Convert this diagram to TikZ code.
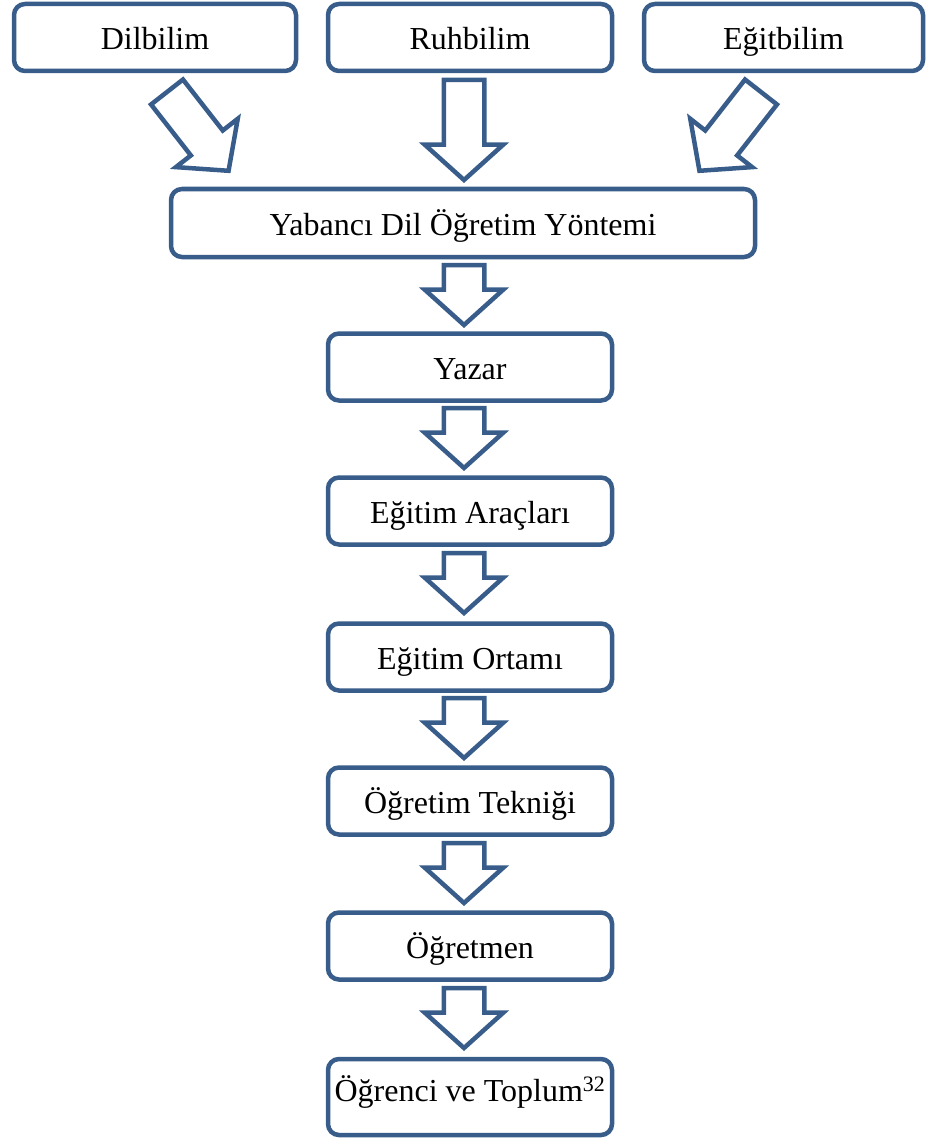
\documentclass[tikz,border=0pt]{standalone}
\usepackage{fontspec}
\setmainfont{Liberation Serif}
\usepackage{tikz}
\usetikzlibrary{shapes.arrows}

\definecolor{boxblue}{HTML}{385D8A}

\tikzset{
  box/.style={draw=boxblue, line width=4.5pt, rounded corners=11pt, fill=white,
    minimum width=284pt, minimum height=67pt, inner sep=0pt, outer sep=0pt,
    text height=24pt, text depth=0pt, font=\fontsize{32}{38}\selectfont},
  blockarrow/.style={single arrow, draw=boxblue, line width=4.5pt, fill=white,
    inner ysep=18pt, inner xsep=0pt, outer sep=0pt, minimum width=74pt,
    single arrow head extend=19pt, single arrow tip angle=96,
    minimum height=60pt, anchor=tail}
}

\begin{document}
\begin{tikzpicture}[x=1pt, y=1pt]
\useasboundingbox (0,0) rectangle (926,-1142);

% top row
\node[box, minimum width=282pt] (dil) at (155,-37.5) {Dilbilim};
\node[box] (ruh) at (470,-37.5) {Ruhbilim};
\node[box, minimum width=279pt] (egt) at (783.5,-37.5) {Eğitbilim};

% main chain
\node[box, minimum width=584pt, minimum height=68pt] (yab) at (463,-223) {Yabancı Dil Öğretim Yöntemi};
\node[box] (yaz) at (470,-367) {Yazar};
\node[box] (ara) at (470,-511) {Eğitim Araçları};
\node[box] (ort) at (470,-657) {Eğitim Ortamı};
\node[box] (tek) at (470,-801) {Öğretim Tekniği};
\node[box] (ogm) at (470,-946) {Öğretmen};
\node[box, minimum height=76pt, text depth=8pt, text height=16pt] (ogr) at (470,-1097) {Öğrenci ve Toplum\textsuperscript{\fontsize{22}{24}\selectfont 32}};

% arrows into the method box
\node[blockarrow, minimum height=100pt, rotate=-52] (adil) at (167,-92) {};
\node[blockarrow, minimum height=100pt, rotate=-90] (aruh) at (464,-80) {};
\node[blockarrow, minimum height=100pt, rotate=-128] (aegt) at (761,-92) {};

% arrows down the chain
\node[blockarrow, rotate=-90] (ayab) at (464,-265) {};
\node[blockarrow, rotate=-90] (ayaz) at (464,-408) {};
\node[blockarrow, rotate=-90] (aara) at (464,-553) {};
\node[blockarrow, rotate=-90] (aort) at (464,-698) {};
\node[blockarrow, rotate=-90] (atek) at (464,-843) {};
\node[blockarrow, rotate=-90] (aogm) at (464,-988) {};
\end{tikzpicture}
\end{document}
